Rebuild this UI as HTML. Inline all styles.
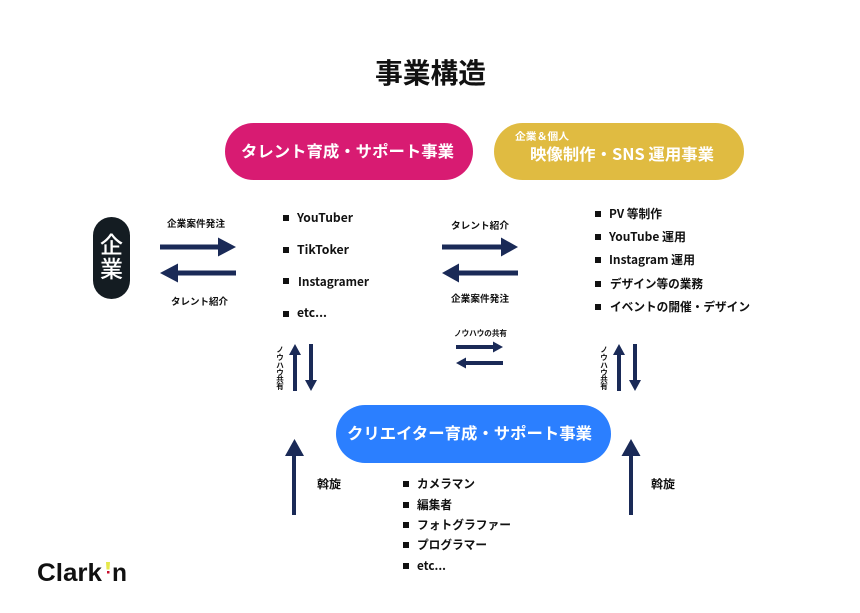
<!DOCTYPE html>
<html lang="ja"><head><meta charset="utf-8"><style>
html,body{margin:0;padding:0;background:#fff}
svg{display:block}
text{font-family:"Noto Sans CJK JP","Liberation Sans",sans-serif;font-weight:700;fill:#111;}
.w{fill:#fff}
.n{fill:#1a2a57}
.l{font-size:12px}
.v{font-size:7.5px;text-anchor:middle}
</style></head><body>
<svg width="860" height="613" viewBox="0 0 860 613" xmlns="http://www.w3.org/2000/svg">
<rect width="860" height="613" fill="#fff"/>
<text x="375" y="83" font-size="28" textLength="111" lengthAdjust="spacingAndGlyphs">事業構造</text>

<rect x="225" y="123" width="248" height="57" rx="28.5" fill="#d81b72"/>
<text class="w" x="241" y="157" font-size="16" textLength="213" lengthAdjust="spacingAndGlyphs">タレント育成・サポート事業</text>
<rect x="494" y="123" width="250" height="57" rx="28.5" fill="#e0bb41"/>
<text class="w" x="515" y="140" font-size="10" textLength="54" lengthAdjust="spacingAndGlyphs">企業＆個人</text>
<text class="w" x="530" y="160" font-size="16" textLength="184" lengthAdjust="spacingAndGlyphs">映像制作・SNS 運用事業</text>
<rect x="336" y="405" width="275" height="58" rx="29" fill="#2b7fff"/>
<text class="w" x="347" y="439" font-size="16" textLength="245" lengthAdjust="spacingAndGlyphs">クリエイター育成・サポート事業</text>
<rect x="93" y="217" width="37" height="82" rx="18.5" fill="#141c22"/>
<text class="w" x="111.5" y="253" font-size="23" text-anchor="middle" style="font-weight:500">企</text>
<text class="w" x="111.5" y="277" font-size="23" text-anchor="middle" style="font-weight:500">業</text>

<!-- horizontal arrows -->
<polygon class="n" points="160,244.500 218,244.500 218,237.500 236,247 218,256.500 218,249.500 160,249.500"/>
<polygon class="n" points="236,270.500 178,270.500 178,263.500 160,273 178,282.500 178,275.500 236,275.500"/>
<polygon class="n" points="442,244.500 501,244.500 501,237.500 518,247 501,256.500 501,249.500 442,249.500"/>
<polygon class="n" points="518,270.500 459,270.500 459,263.500 442,273 459,282.500 459,275.500 518,275.500"/>
<polygon class="n" points="456,345 493,345 493,341.500 503,347 493,352.500 493,349 456,349"/>
<polygon class="n" points="503,361 466,361 466,357.500 456,363 466,368.500 466,365 503,365"/>
<!-- vertical small arrows -->
<polygon class="n" points="293,391 293,355 289,355 295,344 301,355 297,355 297,391"/>
<polygon class="n" points="309,344 309,380 305,380 311,391 317,380 313,380 313,344"/>
<polygon class="n" points="617,391 617,355 613,355 619,344 625,355 621,355 621,391"/>
<polygon class="n" points="633,344 633,380 629,380 635,391 641,380 637,380 637,344"/>
<!-- big up arrows -->
<polygon class="n" points="292,515 292,456 285,456 294.500,439 304,456 296,456 296,515"/>
<polygon class="n" points="629,515 629,456 621.500,456 631,439 640.500,456 633,456 633,515"/>

<!-- labels -->
<text x="167" y="227" font-size="9.500" textLength="58" lengthAdjust="spacingAndGlyphs">企業案件発注</text>
<text x="171" y="305" font-size="9.500" textLength="57" lengthAdjust="spacingAndGlyphs">タレント紹介</text>
<text x="451" y="229" font-size="9.500" textLength="58" lengthAdjust="spacingAndGlyphs">タレント紹介</text>
<text x="451" y="302" font-size="9.500" textLength="58" lengthAdjust="spacingAndGlyphs">企業案件発注</text>
<text x="454" y="336" font-size="8" textLength="53" lengthAdjust="spacingAndGlyphs">ノウハウの共有</text>

<text class="v" x="280" y="352">ノ</text>
<text class="v" x="280" y="360">ウ</text>
<text class="v" x="280" y="368">ハ</text>
<text class="v" x="280" y="375">ウ</text>
<text class="v" x="280" y="382">共</text>
<text class="v" x="280" y="389">有</text>
<text class="v" x="604" y="352">ノ</text>
<text class="v" x="604" y="360">ウ</text>
<text class="v" x="604" y="368">ハ</text>
<text class="v" x="604" y="375">ウ</text>
<text class="v" x="604" y="382">共</text>
<text class="v" x="604" y="389">有</text>
<text x="317" y="488" font-size="11.500" textLength="24" lengthAdjust="spacingAndGlyphs">斡旋</text>
<text x="651" y="488" font-size="11.500" textLength="24" lengthAdjust="spacingAndGlyphs">斡旋</text>

<!-- lists -->
<g fill="#111">
<rect x="283" y="215" width="6" height="6"/><rect x="283" y="247" width="6" height="6"/><rect x="283" y="278" width="6" height="6"/><rect x="283" y="311" width="6" height="6"/>
<rect x="595" y="211" width="6" height="6"/><rect x="595" y="234" width="6" height="6"/><rect x="595" y="257" width="6" height="6"/><rect x="595" y="281" width="6" height="6"/><rect x="595" y="304" width="6" height="6"/>
<rect x="403" y="481" width="6" height="6"/><rect x="403" y="502" width="6" height="6"/><rect x="403" y="522" width="6" height="6"/><rect x="403" y="542" width="6" height="6"/><rect x="403" y="563" width="6" height="6"/>
</g>
<text class="l" x="297" y="222" textLength="56" lengthAdjust="spacingAndGlyphs">YouTuber</text>
<text class="l" x="297" y="254" textLength="52" lengthAdjust="spacingAndGlyphs">TikToker</text>
<text class="l" x="298" y="286" textLength="71" lengthAdjust="spacingAndGlyphs">Instagramer</text>
<text class="l" x="297" y="317" textLength="30" lengthAdjust="spacingAndGlyphs">etc...</text>

<text class="l" x="609" y="218" textLength="53" lengthAdjust="spacingAndGlyphs">PV 等制作</text>
<text class="l" x="609" y="241" textLength="77" lengthAdjust="spacingAndGlyphs">YouTube 運用</text>
<text class="l" x="609" y="264" textLength="86" lengthAdjust="spacingAndGlyphs">Instagram 運用</text>
<text class="l" x="610" y="288" textLength="93" lengthAdjust="spacingAndGlyphs">デザイン等の業務</text>
<text class="l" x="610" y="311" textLength="140" lengthAdjust="spacingAndGlyphs">イベントの開催・デザイン</text>

<text class="l" x="417" y="488" textLength="58" lengthAdjust="spacingAndGlyphs">カメラマン</text>
<text class="l" x="417" y="509" textLength="35" lengthAdjust="spacingAndGlyphs">編集者</text>
<text class="l" x="417" y="529" textLength="94" lengthAdjust="spacingAndGlyphs">フォトグラファー</text>
<text class="l" x="417" y="549" textLength="70" lengthAdjust="spacingAndGlyphs">プログラマー</text>
<text class="l" x="417" y="570" textLength="29" lengthAdjust="spacingAndGlyphs">etc...</text>

<!-- logo -->
<text x="37" y="581" font-size="25" textLength="65" lengthAdjust="spacingAndGlyphs" style="font-family:'Liberation Sans',sans-serif;font-weight:700;fill:#111">Clark</text>
<polygon points="106,562 110,562 109.500,569.500 106.500,569.500" fill="#e6e84a"/>
<rect x="107" y="571" width="2.500" height="2.500" fill="#c8102e"/>
<text x="112" y="581" font-size="25" textLength="15" lengthAdjust="spacingAndGlyphs" style="font-family:'Liberation Sans',sans-serif;font-weight:700;fill:#111">n</text>
</svg>
</body></html>
